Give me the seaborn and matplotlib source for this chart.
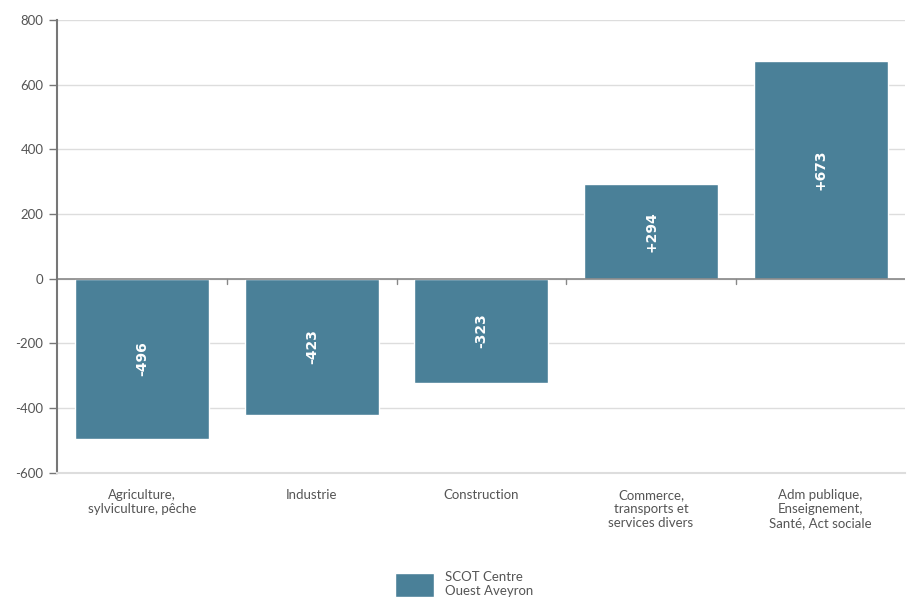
import matplotlib
matplotlib.use("Agg")
import matplotlib.pyplot as plt
import seaborn as sns
import pandas as pd

categories = ["Agriculture,\nsylviculture, pêche", "Industrie", "Construction",
              "Commerce,\ntransports et\nservices divers",
              "Adm publique,\nEnseignement,\nSanté, Act sociale"]
values = [-496, -423, -323, 294, 673]
labels = ["-496", "-423", "-323", "+294", "+673"]
series_name = "SCOT Centre\nOuest Aveyron"
yticks = [-600, -400, -200, 0, 200, 400, 600, 800]

bar_color = "#4a8098"
text_color = "#555555"

sns.set_style("white")
plt.rcParams["font.family"] = ["Lato", "DejaVu Sans"]

df = pd.DataFrame({"secteur": categories, "valeur": values})

fig = plt.figure(figsize=(9.1, 6.06), dpi=100)
ax = fig.add_axes([0.063, 0.22, 0.932, 0.747])

sns.barplot(data=df, x="secteur", y="valeur", color=bar_color, width=0.79,
            saturation=1, ax=ax, label=series_name)

ax.set_ylim(-600, 800)
ax.set_xlim(-0.5, 4.5)
ax.set_yticks(yticks)
ax.set_yticklabels([str(t) for t in yticks], fontsize=9.5, color=text_color)
ax.yaxis.grid(True, color="#dddddd", linewidth=1)
ax.set_axisbelow(True)
ax.axhline(0, color="#888888", linewidth=1.2, zorder=1)
ax.set_xlabel("")
ax.set_ylabel("")

# category separators on the zero line
for b in [0.5, 1.5, 2.5, 3.5]:
    ax.plot([b, b], [0, -15], color="#888888", linewidth=1, zorder=1)

ax.tick_params(axis="x", length=0, labelsize=9.5, labelcolor=text_color, pad=12)
ax.tick_params(axis="y", length=6, width=1, color="#777777", left=True, pad=4)

for s in ["top", "right"]:
    ax.spines[s].set_visible(False)
ax.spines["left"].set_color("#777777")
ax.spines["left"].set_linewidth(1.5)
ax.spines["bottom"].set_color("#dddddd")
ax.spines["bottom"].set_linewidth(1.5)

for patch, lab, v in zip(ax.patches, labels, values):
    cx = patch.get_x() + patch.get_width() / 2
    ax.text(cx, v / 2, lab, rotation=90, ha="center", va="center",
            color="white", fontsize=10, fontweight="bold",
            family=["DejaVu Sans"])

handles, leg_labels = ax.get_legend_handles_labels()
if ax.get_legend() is not None:
    ax.get_legend().remove()
leg = fig.legend(handles, leg_labels, loc="lower center",
                 bbox_to_anchor=(0.51, 0.0), frameon=False,
                 fontsize=9.5, handlelength=3.0, handleheight=2.4,
                 handletextpad=0.8, borderaxespad=0.3)
for t in leg.get_texts():
    t.set_color(text_color)

fig.savefig("out.png", dpi=100)
